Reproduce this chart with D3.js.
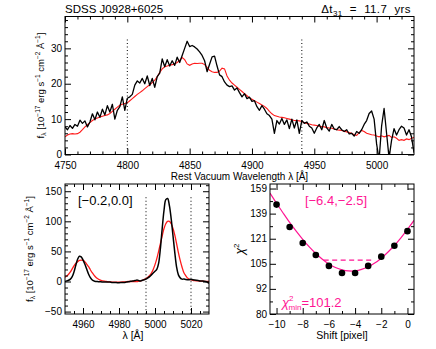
<!DOCTYPE html>
<html>
<head>
<meta charset="utf-8">
<style>
  body { margin: 0; background: #fff; }
  svg { display: block; }
  text { font-family: "Liberation Sans", Arial, sans-serif; fill: #000; }
</style>
</head>
<body>
<svg width="436" height="349"></svg>
<script src="https://d3js.org/d3.v7.min.js"></script>
<script>

// ---- top panel: H-beta region, 2 A sampling from 4750 ----
var topStart = 4750, topStep = 2;
var topBlack = [7.8,7.0,8.2,7.4,8.5,8.0,9.7,8.8,9.5,7.8,9.2,11.5,9.8,12.0,10.5,12.8,11.2,13.8,12.0,14.2,
  10.0,12.5,13.5,16.3,12.5,15.9,16.3,17.0,19.6,20.8,20.2,21.5,20.0,22.2,19.5,21.5,19.0,22.0,23.0,27.0,
  24.8,26.8,25.0,26.5,25.2,27.5,26.0,28.0,30.0,32.0,30.5,30.8,30.4,29.8,29.0,28.0,26.5,23.4,25.5,27.6,
  27.8,25.0,22.5,22.0,20.5,19.6,19.2,19.4,18.2,18.8,17.5,16.3,17.2,15.8,16.2,15.0,15.2,13.5,12.5,13.8,
  12.8,11.5,11.0,10.0,6.0,9.6,8.6,10.2,8.5,9.8,7.3,10.0,7.5,9.8,6.0,9.6,8.8,9.2,8.0,7.5,
  6.0,7.5,8.5,7.0,9.6,7.5,6.6,8.5,7.2,7.0,7.9,7.0,6.5,7.0,5.8,6.0,5.2,6.5,6.0,7.0,
  8.5,9.6,11.6,12.3,10.0,3.0,-1.5,8.0,13.0,6.0,-1.0,4.0,7.3,5.5,7.0,8.0,7.5,5.5,7.0,5.0,0.5];
var topRed = [5.0,5.5,5.8,5.9,5.8,5.9,6.3,7.0,7.8,8.4,9.0,9.6,10.0,10.3,10.6,10.8,11.0,11.2,11.6,12.2,
  12.8,13.4,13.9,14.2,14.4,14.6,15.2,15.8,16.4,17.0,17.5,18.0,18.6,19.2,19.7,20.3,21.0,22.0,23.2,24.2,
  24.8,25.0,25.2,25.4,25.6,26.0,26.6,27.4,26.8,25.6,25.2,25.6,25.8,25.7,25.8,25.8,25.4,24.6,23.8,23.4,
  23.2,23.2,23.6,24.4,24.2,22.2,21.0,20.2,19.6,19.0,18.4,17.8,17.2,16.6,16.0,15.6,15.2,14.8,14.4,14.0,
  13.6,13.0,12.2,11.5,11.0,10.8,10.6,10.5,10.4,10.2,10.0,9.8,9.6,9.6,9.5,9.3,9.0,8.8,8.6,8.4,
  8.3,8.2,8.0,7.9,7.8,7.6,7.5,7.4,7.2,7.0,6.9,6.8,6.6,6.4,6.2,6.0,5.6,5.4,6.2,6.8,
  6.5,6.0,5.8,5.6,5.5,5.2,5.0,5.3,5.0,5.2,5.4,4.8,5.0,4.6,4.0,4.2,4.0,4.4,4.2,4.6,4.8];
var topMarks = [4800, 4940];
var topXTicks = [4750, 4800, 4850, 4900, 4950, 5000];
var topYTicks = [0, 10, 20, 30];

// ---- bottom left: [O III] region, 1 A sampling from 4950 ----
var oStart = 4950, oStep = 1;
var oBlack = [0,1,2,4,8,16,27,37,42,41,36,29,21,13,7,3,1,0,0,-0.5,
  -0.5,-1,-1,-1,-1,-1,-1.5,-1.5,-1.5,-2,-2,-1.8,-1.5,-1.5,-1,-0.5,0,0.5,1,1.5,
  2.5,1.5,1,2,3,4,6,8,11,14,17,20,30,55,88,118,136,138,126,104,
  76,48,24,11,6,4,4,3.5,3,3,3.5,3,2.5,2,1.5,1,1,0.5,0,-1,-3];
var oRed = [7,9,12,16,21,26,30,33,35,35.5,35,33,29,25,20,15,11,7.5,5,3,
  2,1,0.5,0,-0.5,-0.5,-1,-1,-1,-1,-1,-1,-0.8,-0.5,-0.5,0,0,0,0,0,
  0,0.5,1,2,3.5,5,7,10,14,20,28,38,50,63,76,88,96,100,100,96,
  88,77,63,48,35,24,15,10,6,4,3,2,1.5,1.2,1,0.8,0.6,0.4,0.2,0.1,0];
var oMarks = [4995, 5020];
var oXTicks = [4960, 4980, 5000, 5020];
var oYTicks = [-50, 0, 50, 100, 150];
var oLabel = "[\u22120.2,0.0]";

// ---- bottom right: chi-square vs shift ----
var shifts = [-10,-9,-8,-7,-6,-5,-4,-3,-2,-1,0];
var chi2 = [145.6,128.8,118.0,110.5,104.1,100.1,100.1,104.1,109.5,116.2,125.9];
var fitShift = [-10.5,-10,-9.5,-9,-8.5,-8,-7.5,-7,-6.5,-6,-5.5,-5,-4.5,-4,-3.5,-3,-2.5,-2,-1.5,-1,-0.5,0,0.5];
var fitChi2 = [155.0,146.7,139.1,132.1,125.9,120.4,115.5,111.4,108.0,105.2,103.2,101.9,101.3,101.3,102.1,103.6,105.7,108.6,112.2,116.4,121.4,127.1,133.5];
var errRange = [-6.4, -2.5];
var errLevel = 107.4;
var chiMin = "101.2";
var chiYTicks = [80, 91.8, 105.3, 120.8, 138.6, 159];
var chiXTicks = [-10, -8, -6, -4, -2, 0];

var red = "#ff1a1a", pink = "#ff1493";
var svg = d3.select("svg");
var fmt = d3.format("d");

// IDL style box: inward ticks on all four sides, labels left and bottom
function box(g, x, y, w, h, o) {
  function ax(gen, tr, vals, size, lab, pad) {
    var a = g.append("g").attr("transform", tr)
      .call(gen.tickValues(vals).tickSize(size).tickPadding(pad || 3)
        .tickFormat(lab ? o.fmt || fmt : ""));
    a.select(".domain").remove();
    a.selectAll("line").attr("stroke", "#000");
    a.selectAll("text").style("font-size", "10px").attr("fill", "#000");
  }
  ax(d3.axisBottom(x), "translate(0," + h + ")", o.xMajor, -6, true, 7);
  ax(d3.axisBottom(x), "translate(0," + h + ")", o.xMinor, -3, false);
  ax(d3.axisTop(x), "translate(0,0)", o.xMajor, -6, false);
  ax(d3.axisTop(x), "translate(0,0)", o.xMinor, -3, false);
  var ya = g.append("g").call(d3.axisLeft(y).tickValues(o.yMajor).tickSize(-6).tickPadding(3).tickFormat(o.yfmt || fmt));
  ya.select(".domain").remove();
  ya.selectAll("text").style("font-size", "10px").attr("dy", "0.3em");
  ax(d3.axisLeft(y), "translate(0,0)", o.yMinor, -3, false);
  ax(d3.axisRight(y), "translate(" + w + ",0)", o.yMajor, -6, false);
  ax(d3.axisRight(y), "translate(" + w + ",0)", o.yMinor, -3, false);
  g.append("rect").attr("width", w).attr("height", h)
    .attr("fill", "none").attr("stroke", "#000").attr("stroke-width", 1);
}

function clip(g, id, w, h) {
  g.append("clipPath").attr("id", id).append("rect").attr("width", w).attr("height", h);
  return g.append("g").attr("clip-path", "url(#" + id + ")");
}

// ================= top panel =================
var T = { l: 65, t: 16.5, w: 349, h: 138 };
var gT = svg.append("g").attr("transform", "translate(" + T.l + "," + T.t + ")");
var xT = d3.scaleLinear().domain([4750, 5030]).range([0, T.w]);
var yT = d3.scaleLinear().domain([0, 39]).range([T.h, 0]);
var cT = clip(gT, "clipT", T.w, T.h);
var lineT = function (arr) {
  return d3.line().x(function (d, i) { return xT(topStart + i * topStep); }).y(function (d) { return yT(d); })(arr);
};
cT.append("path").attr("d", lineT(topRed)).attr("fill", "none").attr("stroke", red).attr("stroke-width", 1.1);
cT.append("path").attr("d", lineT(topBlack)).attr("fill", "none").attr("stroke", "#000").attr("stroke-width", 1.3)
  .attr("stroke-linejoin", "round");
topMarks.forEach(function (m) {
  gT.append("line").attr("x1", xT(m)).attr("x2", xT(m)).attr("y1", yT(32.5)).attr("y2", yT(0))
    .attr("stroke", "#000").attr("stroke-width", 1).attr("stroke-dasharray", "1,2.5");
});
box(gT, xT, yT, T.w, T.h, {
  xMajor: topXTicks, xMinor: d3.range(4760, 5030, 10).filter(function (v) { return v % 50; }),
  yMajor: topYTicks, yMinor: d3.range(2, 39, 2).filter(function (v) { return v % 10; })
});
svg.append("text").attr("x", 65).attr("y", 12.5).style("font-size", "11.5px").text("SDSS J0928+6025");
var dt = svg.append("text").attr("x", 411).attr("y", 12.5).attr("text-anchor", "end")
  .style("font-size", "11.5px").style("white-space", "pre").style("letter-spacing", "0.4px");
dt.append("tspan").text("\u0394t");
dt.append("tspan").attr("dy", 3).style("font-size", "8px").text("31");
dt.append("tspan").attr("dy", -3).text("  =  11.7  yrs");
svg.append("text").attr("x", T.l + T.w / 2).attr("y", 180).attr("text-anchor", "middle")
  .style("font-size", "10px").text("Rest Vacuum Wavelength \u03bb [\u00c5]");

function fLabel(x, y) {
  var t = svg.append("text").attr("transform", "translate(" + x + "," + y + ") rotate(-90)")
    .attr("text-anchor", "middle").style("font-size", "9.5px");
  t.append("tspan").text("f");
  t.append("tspan").attr("dy", 2).style("font-size", "6.5px").text("\u03bb");
  t.append("tspan").attr("dy", -2).text(" [10");
  t.append("tspan").attr("dy", -4).style("font-size", "6.5px").text("\u221217");
  t.append("tspan").attr("dy", 4).text(" erg s");
  t.append("tspan").attr("dy", -4).style("font-size", "6.5px").text("\u22121");
  t.append("tspan").attr("dy", 4).text(" cm");
  t.append("tspan").attr("dy", -4).style("font-size", "6.5px").text("\u22122");
  t.append("tspan").attr("dy", 4).text(" \u00c5");
  t.append("tspan").attr("dy", -4).style("font-size", "6.5px").text("\u22121");
  t.append("tspan").attr("dy", 4).text("]");
}
fLabel(44, T.t + T.h / 2);

// ================= bottom left =================
var L = { l: 65, t: 184, w: 144, h: 130 };
var gL = svg.append("g").attr("transform", "translate(" + L.l + "," + L.t + ")");
var xL = d3.scaleLinear().domain([4950, 5030]).range([0, L.w]);
var yL = d3.scaleLinear().domain([-54, 162]).range([L.h, 0]);
var cL = clip(gL, "clipL", L.w, L.h);
var lineL = function (arr) {
  return d3.line().curve(d3.curveCatmullRom).x(function (d, i) { return xL(oStart + i * oStep); }).y(function (d) { return yL(d); })(arr);
};
cL.append("path").attr("d", lineL(oRed)).attr("fill", "none").attr("stroke", red).attr("stroke-width", 1.3);
cL.append("path").attr("d", lineL(oBlack)).attr("fill", "none").attr("stroke", "#000").attr("stroke-width", 1.5);
oMarks.forEach(function (m) {
  gL.append("line").attr("x1", xL(m)).attr("x2", xL(m)).attr("y1", yL(140)).attr("y2", yL(-54))
    .attr("stroke", "#000").attr("stroke-width", 1).attr("stroke-dasharray", "1,2.5");
});
box(gL, xL, yL, L.w, L.h, {
  xMajor: oXTicks, xMinor: d3.range(4955, 5030, 5).filter(function (v) { return v % 20; }),
  yMajor: oYTicks, yMinor: d3.range(-50, 161, 10).filter(function (v) { return v % 50; })
});
gL.append("text").attr("x", 13).attr("y", 21).style("font-size", "13px").text(oLabel);
fLabel(33, L.t + L.h / 2);
svg.append("text").attr("x", L.l + L.w / 2 - 4).attr("y", 339).attr("text-anchor", "middle")
  .style("font-size", "10.5px").text("\u03bb [\u00c5]");

// ================= bottom right =================
var R = { l: 270, t: 184, w: 144, h: 130 };
var gR = svg.append("g").attr("transform", "translate(" + R.l + "," + R.t + ")");
var xR = d3.scaleLinear().domain([-10.5, 0.5]).range([0, R.w]);
var yR = d3.scaleLog().domain([80, 163]).range([R.h, 0]);
var cR = clip(gR, "clipR", R.w, R.h);
cR.append("path")
  .attr("d", d3.line().curve(d3.curveCatmullRom).x(function (d, i) { return xR(fitShift[i]); }).y(function (d) { return yR(d); })(fitChi2))
  .attr("fill", "none").attr("stroke", pink).attr("stroke-width", 1.2);
gR.append("line").attr("x1", xR(errRange[0])).attr("x2", xR(errRange[1]))
  .attr("y1", yR(errLevel)).attr("y2", yR(errLevel))
  .attr("stroke", pink).attr("stroke-width", 1.2).attr("stroke-dasharray", "5,3.5");
gR.selectAll("circle.pt").data(chi2).enter().append("circle")
  .attr("cx", function (d, i) { return xR(shifts[i]); })
  .attr("cy", function (d) { return yR(d); })
  .attr("r", 3.3).attr("fill", "#000");
var midLog = [];
for (var i = 0; i < chiYTicks.length - 1; i++) midLog.push(Math.sqrt(chiYTicks[i] * chiYTicks[i + 1]));
box(gR, xR, yR, R.w, R.h, {
  xMajor: chiXTicks, xMinor: d3.range(-10, 0.5, 1).filter(function (v) { return v % 2; }),
  yMajor: chiYTicks, yMinor: midLog, yfmt: d3.format(".0f"), fmt: d3.format("d")
});
gR.append("text").attr("x", 66).attr("y", 21).attr("text-anchor", "middle")
  .style("font-size", "13px").style("fill", pink)
  .text("[" + d3.format(".1f")(errRange[0]) + "," + d3.format(".1f")(errRange[1]) + "]");
var cm = gR.append("text").attr("x", 12).attr("y", 123).style("fill", pink).style("font-size", "13px");
cm.append("tspan").style("font-style", "italic").text("\u03c7");
cm.append("tspan").attr("dy", -6).style("font-size", "8px").text("2");
cm.append("tspan").attr("dx", -5).attr("dy", 9).style("font-size", "8px").text("min");
cm.append("tspan").attr("dy", -3).text("=" + chiMin);
var cy = svg.append("text").attr("transform", "translate(244," + (R.t + R.h / 2) + ") rotate(-90)")
  .attr("text-anchor", "middle").style("font-size", "12px");
cy.append("tspan").style("font-style", "italic").text("\u03c7");
cy.append("tspan").attr("dy", -5).style("font-size", "8px").text("2");
svg.append("text").attr("x", R.l + R.w / 2).attr("y", 339).attr("text-anchor", "middle")
  .style("font-size", "10.5px").text("Shift [pixel]");
</script>
</body>
</html>
